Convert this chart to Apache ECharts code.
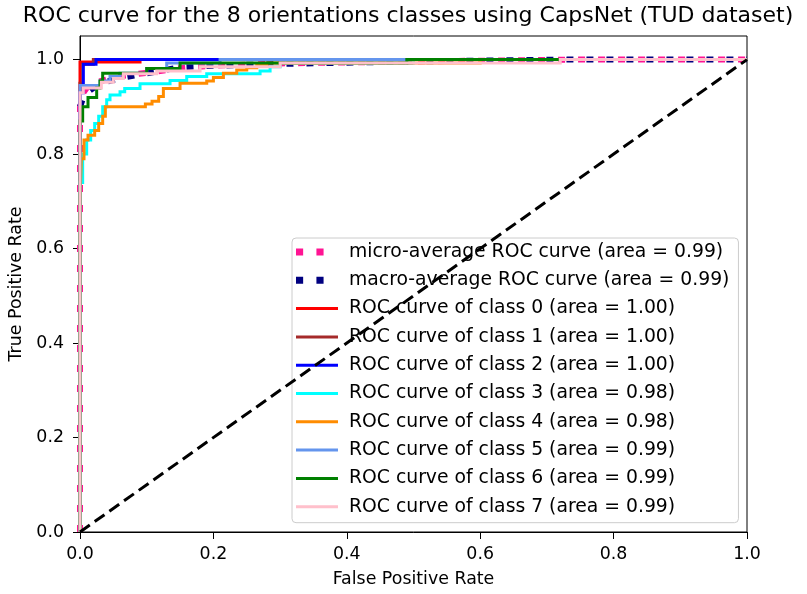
<!DOCTYPE html>
<html><head><meta charset="utf-8">
<script src="https://cdn.jsdelivr.net/npm/echarts@6/dist/echarts.min.js"></script>
<style>html,body{margin:0;padding:0;background:#fff}#c{width:807px;height:594px}</style>
</head><body><div id="c"></div><script>
// ---- data ----
const titleText = 'ROC curve for the 8 orientations classes using CapsNet (TUD dataset)';
const xTicks = [0, 0.2, 0.4, 0.6, 0.8, 1.0];
const yTicks = [0, 0.2, 0.4, 0.6, 0.8, 1.0];
const seriesLabels = [
  'micro-average ROC curve (area = 0.99)',
  'macro-average ROC curve (area = 0.99)',
  'ROC curve of class 0 (area = 1.00)',
  'ROC curve of class 1 (area = 1.00)',
  'ROC curve of class 2 (area = 1.00)',
  'ROC curve of class 3 (area = 0.98)',
  'ROC curve of class 4 (area = 0.98)',
  'ROC curve of class 5 (area = 0.99)',
  'ROC curve of class 6 (area = 0.99)',
  'ROC curve of class 7 (area = 0.99)'
];
// [fpr, tpr] points
const microAvg = [[0,0],[0,0.9],[0.005,0.93],[0.01,0.94],[0.02,0.95],[0.04,0.958],[0.06,0.965],[0.1,0.972],[0.15,0.982],[0.2,0.987],[0.3,0.992],[0.5,0.996],[0.73,1],[1,1]];
const macroAvg = [[0,0.9],[0.005,0.92],[0.01,0.93],[0.02,0.94],[0.03,0.947],[0.04,0.953],[0.06,0.961],[0.1,0.971],[0.15,0.984],[0.2,0.987],[0.3,0.991],[0.5,0.996],[0.73,1],[1,1]];
const class0 = [[0,0],[0,0.995],[0.09,0.995],[0.09,1],[1,1]];
const class1 = [[0,0],[0,0.95],[0.004,0.95],[0.004,0.99],[0.02,0.99],[0.02,1],[1,1]];
const class2 = [[0,0],[0,0.93],[0.005,0.93],[0.005,0.99],[0.024,0.99],[0.024,1],[1,1]];
const class3 = [[0,0],[0,0.74],[0.004,0.74],[0.004,0.8],[0.01,0.8],[0.01,0.83],[0.016,0.83],[0.016,0.85],[0.022,0.85],[0.022,0.865],[0.028,0.865],[0.028,0.88],[0.034,0.88],[0.034,0.9],[0.04,0.9],[0.04,0.915],[0.045,0.915],[0.045,0.925],[0.06,0.925],[0.06,0.932],[0.067,0.932],[0.067,0.939],[0.09,0.939],[0.09,0.949],[0.135,0.949],[0.135,0.956],[0.16,0.956],[0.16,0.964],[0.19,0.964],[0.19,0.97],[0.27,0.97],[0.27,0.976],[0.285,0.976],[0.285,0.985],[0.3,0.985],[0.3,0.993],[0.5,0.993],[0.5,1],[1,1]];
const class4 = [[0,0],[0,0.7],[0.002,0.7],[0.002,0.79],[0.006,0.79],[0.006,0.83],[0.012,0.83],[0.012,0.84],[0.022,0.84],[0.022,0.85],[0.028,0.85],[0.028,0.865],[0.034,0.865],[0.034,0.88],[0.038,0.88],[0.038,0.9],[0.098,0.9],[0.098,0.906],[0.108,0.906],[0.108,0.912],[0.118,0.912],[0.118,0.922],[0.125,0.922],[0.125,0.939],[0.15,0.939],[0.15,0.95],[0.19,0.95],[0.19,0.955],[0.2,0.955],[0.2,0.962],[0.215,0.962],[0.215,0.971],[0.235,0.971],[0.235,0.978],[0.25,0.978],[0.25,0.983],[0.265,0.983],[0.265,0.988],[0.28,0.988],[0.28,0.993],[0.6,0.993],[0.6,1],[1,1]];
const class5 = [[0,0],[0,0.945],[0.03,0.945],[0.03,0.955],[0.045,0.955],[0.045,0.964],[0.06,0.964],[0.06,0.971],[0.1,0.971],[0.1,0.981],[0.13,0.981],[0.13,0.993],[0.21,0.993],[0.21,1],[1,1]];
const class6 = [[0,0],[0,0.87],[0.004,0.87],[0.004,0.9],[0.012,0.9],[0.012,0.92],[0.025,0.92],[0.025,0.94],[0.03,0.94],[0.03,0.955],[0.034,0.955],[0.034,0.971],[0.1,0.971],[0.1,0.981],[0.15,0.981],[0.15,0.993],[0.49,0.993],[0.49,1],[1,1]];
const class7 = [[0,0],[0,0.93],[0.005,0.93],[0.005,0.94],[0.032,0.94],[0.032,0.952],[0.05,0.952],[0.05,0.96],[0.065,0.96],[0.065,0.97],[0.115,0.97],[0.115,0.976],[0.18,0.976],[0.18,0.985],[0.3,0.985],[0.3,0.993],[0.72,0.993],[0.72,1],[1,1]];
const chanceLine = [[0,0],[1,1]];

// ---- styles ----
const seriesData = [microAvg, macroAvg, class0, class1, class2, class3, class4, class5, class6, class7];
const seriesColors = ['#ff1493','#000080','#ff0000','#a52a2a','#0000ff','#00ffff','#ff8c00','#6495ed','#008000','#ffc0cb'];
const FONT = 'DejaVu Sans';
const lineIcon = 'path://M0,0h42v3h-42zM48,0h0.01v0.01h-0.01z';
const dotIcon = 'path://M1,0h7v7h-7zM21,0h7v7h-7zM48,0h0.01v0.01h-0.01z';

const series = seriesData.map((d, i) => {
  const isAvg = i < 2;
  return {
    type: 'line', name: seriesLabels[i], data: d, showSymbol: false, symbol: 'none',
    silent: true, animation: false, z: isAvg ? 1 : 2, clip: true,
    itemStyle: { color: seriesColors[i] },
    lineStyle: isAvg ? { color: seriesColors[i], width: 6, type: [7, 13], cap: 'butt' }
                     : { color: seriesColors[i], width: 3, cap: 'butt', join: 'miter' },
    emphasis: { disabled: true }
  };
});
series.push({
  type: 'line', name: 'chance', data: chanceLine, showSymbol: false, symbol: 'none', silent: true,
  z: 4, lineStyle: { color: '#000', width: 3, type: [12, 6], cap: 'butt' }, emphasis: { disabled: true }
});

const chart = echarts.init(document.getElementById('c'), null, { renderer: 'canvas' });
chart.setOption({
  animation: false,
  backgroundColor: '#fff',
  title: {
    text: titleText, left: 408, top: 5, textAlign: 'center', padding: 0,
    textStyle: { fontFamily: FONT, fontSize: 22, fontWeight: 'normal', color: '#000' }
  },
  grid: { left: 80, top: 36, width: 667, height: 496, show: true, borderColor: '#000', borderWidth: 1, backgroundColor: 'transparent' },
  xAxis: {
    type: 'value', min: 0, max: 1, interval: 0.2,
    name: 'False Positive Rate', nameLocation: 'middle', nameGap: 39,
    nameTextStyle: { fontFamily: FONT, fontSize: 17.4, color: '#000' },
    axisLine: { show: true, onZero: false, lineStyle: { color: '#000', width: 1 } },
    axisTick: { show: true, length: 7, lineStyle: { color: '#000' }, customValues: xTicks },
    axisLabel: { fontFamily: FONT, fontSize: 17.4, color: '#000', margin: 14, customValues: xTicks, formatter: v => v.toFixed(1) },
    splitLine: { show: false }
  },
  yAxis: {
    type: 'value', min: 0, max: 1.05,
    name: 'True Positive Rate', nameLocation: 'middle', nameGap: 54,
    nameTextStyle: { fontFamily: FONT, fontSize: 17.4, color: '#000' },
    axisLine: { show: true, onZero: false, lineStyle: { color: '#000', width: 1 } },
    axisTick: { show: true, length: 7, lineStyle: { color: '#000' }, customValues: yTicks },
    axisLabel: { fontFamily: FONT, fontSize: 17.4, color: '#000', margin: 16, customValues: yTicks, formatter: v => v.toFixed(1) },
    splitLine: { show: false }
  },
  legend: {
    orient: 'vertical', left: 292, top: 238, padding: [4, 9, 6, 4],
    itemWidth: 48, itemHeight: 8, itemGap: 8.3, symbolKeepAspect: true,
    backgroundColor: 'rgba(255,255,255,0.8)', borderColor: '#cccccc', borderWidth: 1, borderRadius: 4,
    selectedMode: false,
    itemStyle: { borderWidth: 0 }, lineStyle: { width: 0 },
    textStyle: { fontFamily: FONT, fontSize: 18.8, lineHeight: 20, color: '#000' },
    data: seriesLabels.map((n, i) => ({ name: n, icon: i < 2 ? dotIcon : lineIcon }))
  },
  series: series
});
</script></body></html>
